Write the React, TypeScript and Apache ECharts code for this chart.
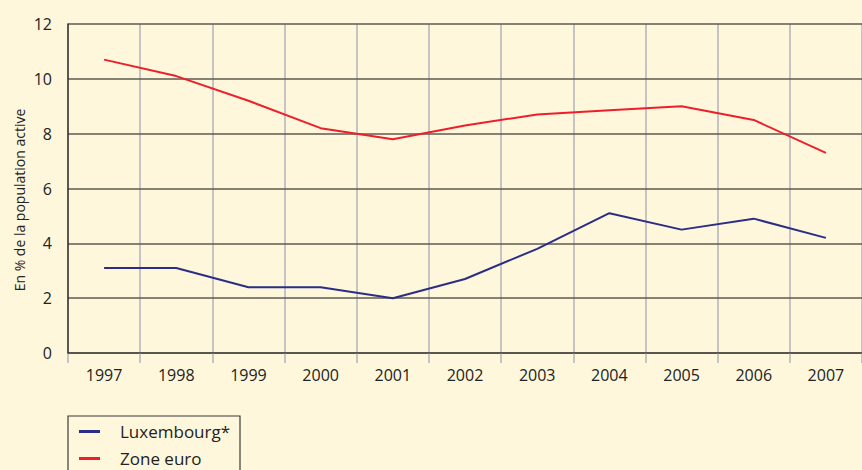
import React, { useEffect, useRef } from "react";
import * as echarts from "echarts";

const years = ["1997", "1998", "1999", "2000", "2001", "2002", "2003", "2004", "2005", "2006", "2007"];
const luxembourg = [3.1, 3.1, 2.4, 2.4, 2.0, 2.7, 3.8, 5.1, 4.5, 4.9, 4.2];
const zoneEuro = [10.7, 10.1, 9.2, 8.2, 7.8, 8.3, 8.7, 8.85, 9.0, 8.5, 7.3];
const seriesNames = ["Luxembourg*", "Zone euro"];
const yTitle = "En % de la population active";

const FONT = "'Open Sans', 'Noto Sans', sans-serif";

export default function App() {
  const ref = useRef<HTMLDivElement>(null);
  useEffect(() => {
    if (!ref.current) return;
    const chart = echarts.init(ref.current, null, { renderer: "svg" });
    chart.setOption({
      animation: false,
      backgroundColor: "#fef7dc",
      textStyle: { fontFamily: FONT },
      grid: { left: 68, top: 24, width: 801, height: 329 },
      graphic: [
        {
          type: "rect",
          shape: { x: 68, y: 416, width: 172, height: 80 },
          style: { fill: "none", stroke: "#3a3a3a", lineWidth: 1.2 },
          z: 10,
        },
        {
          type: "text",
          x: 19,
          y: 200,
          rotation: Math.PI / 2,
          style: {
            text: yTitle,
            fontSize: 14,
            fontFamily: FONT,
            fill: "#222",
            align: "center",
            verticalAlign: "middle",
          },
        },
      ],
      legend: {
        orient: "vertical",
        left: 79,
        top: 423,
        height: 100,
        padding: 0,
        itemWidth: 21,
        itemHeight: 3,
        itemGap: 10,
        icon: "rect",
        textStyle: { fontSize: 17, color: "#222", fontFamily: FONT, padding: [0, 0, 0, 15] },
        data: seriesNames,
      },
      xAxis: {
        type: "category",
        data: years,
        boundaryGap: true,
        axisLine: { show: true, lineStyle: { color: "#111", width: 1.5 } },
        axisTick: {
          show: true,
          length: 10,
          interval: 0,
          lineStyle: { color: "#c4c4c4", width: 2 },
        },
        axisLabel: { fontSize: 16, color: "#222", margin: 14, fontFamily: FONT },
        splitLine: { show: true, interval: 0, lineStyle: { color: "#c4c4c4", width: 2 } },
      },
      yAxis: {
        type: "value",
        min: 0,
        max: 12,
        interval: 2,
        axisLine: { show: true, lineStyle: { color: "#333", width: 1.5 } },
        axisTick: { show: false },
        axisLabel: { fontSize: 16, color: "#222", margin: 16, fontFamily: FONT },
        splitLine: { show: true, lineStyle: { color: "#5e5b50", width: 1.5 } },
        z: 3,
      },
      series: [
        {
          name: seriesNames[0],
          type: "line",
          data: luxembourg,
          symbol: "none",
          color: "#2b2d86",
          lineStyle: { width: 2, color: "#2b2d86" },
          z: 5,
        },
        {
          name: seriesNames[1],
          type: "line",
          data: zoneEuro,
          symbol: "none",
          color: "#ec1f2b",
          lineStyle: { width: 2, color: "#ec1f2b" },
          z: 5,
        },
      ],
    });
    return () => chart.dispose();
  }, []);
  return <div ref={ref} style={{ width: 862, height: 470, position: "fixed", left: 0, top: 0 }} />;
}
